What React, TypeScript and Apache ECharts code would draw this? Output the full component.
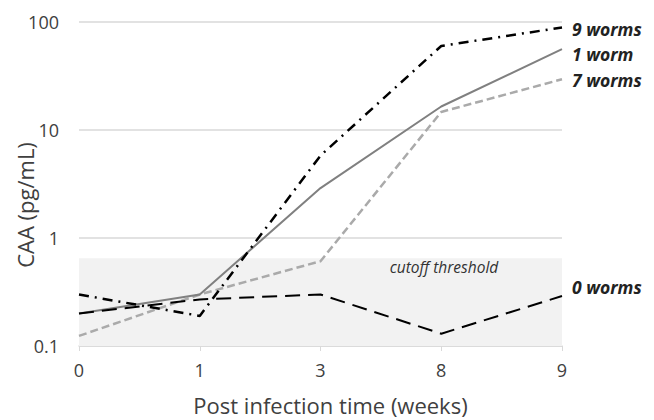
import React, { useEffect, useRef } from "react";
import * as echarts from "echarts";

const weeks = ["0", "1", "3", "8", "9"];
const worms9 = [0.3, 0.19, 5.8, 60, 89];
const worm1 = [0.2, 0.3, 2.9, 16.5, 56];
const worms7 = [0.124, 0.3, 0.61, 14.7, 29.5];
const worms0 = [0.2, 0.27, 0.3, 0.13, 0.29];
const seriesNames = ["9 worms", "1 worm", "7 worms", "0 worms"];
const cutoff = [0.1, 0.65];
const FONT = "'Open Sans', 'DejaVu Sans', sans-serif";

export default function App() {
  const ref = useRef<HTMLDivElement>(null);
  useEffect(() => {
    if (!ref.current) return;
    const chart = echarts.init(ref.current, null, { renderer: "svg" });
    const endLabel = (name: string, dy: number) => ({
      show: true,
      formatter: name,
      fontFamily: FONT,
      fontSize: 17.5,
      fontWeight: "bold",
      fontStyle: "italic",
      color: "#222",
      distance: 10,
      offset: [0, dy],
    });
    chart.setOption({
      animation: false,
      textStyle: { fontFamily: FONT },
      grid: { left: 79, right: 92, top: 22, bottom: 74, outerBoundsMode: "none", containLabel: false },
      graphic: [
        {
          type: "text",
          x: 25,
          y: 205,
          rotation: Math.PI / 2,
          style: {
            text: "CAA (pg/mL)",
            fontFamily: FONT,
            fontSize: 22,
            fill: "#404040",
            align: "center",
            verticalAlign: "middle",
          },
        },
      ],
      xAxis: {
        type: "category",
        data: weeks,
        boundaryGap: false,
        name: "Post infection time (weeks)",
        nameLocation: "middle",
        nameGap: 48,
        nameTextStyle: { fontSize: 22, color: "#404040", fontFamily: FONT, padding: [0, 0, 0, 20] },
        axisLine: { lineStyle: { color: "#d9d9d9", width: 1.5 } },
        axisTick: { show: true, length: 5, lineStyle: { color: "#d9d9d9" } },
        axisLabel: { fontSize: 18, color: "#404040", margin: 15, fontFamily: FONT },
        splitLine: { show: false },
      },
      yAxis: {
        type: "log",
        logBase: 10,
        min: 0.1,
        max: 100,
        axisLine: { show: false },
        axisTick: { show: false },
        axisLabel: {
          fontSize: 18,
          color: "#404040",
          margin: 20,
          fontFamily: FONT,
          formatter: (v: number) => String(v),
        },
        splitLine: { lineStyle: { color: "#d9d9d9", width: 1.5 } },
      },
      series: [
        {
          name: seriesNames[0],
          type: "line",
          data: worms9,
          symbol: "none",
          lineStyle: { color: "#000", width: 2.5, type: [10, 6, 2, 6] },
          endLabel: endLabel(seriesNames[0], 2),
          z: 5,
        },
        {
          name: seriesNames[1],
          type: "line",
          data: worm1,
          symbol: "none",
          lineStyle: { color: "#808080", width: 2 },
          endLabel: endLabel(seriesNames[1], 5),
          z: 4,
        },
        {
          name: seriesNames[2],
          type: "line",
          data: worms7,
          symbol: "none",
          lineStyle: { color: "#aaaaaa", width: 2.5, type: [8, 4] },
          endLabel: endLabel(seriesNames[2], 1),
          z: 3,
        },
        {
          name: seriesNames[3],
          type: "line",
          data: worms0,
          symbol: "none",
          lineStyle: { color: "#000", width: 2, type: [15, 8] },
          endLabel: endLabel(seriesNames[3], -9),
          z: 6,
          markArea: {
            silent: true,
            itemStyle: { color: "#f2f2f2" },
            label: {
              show: true,
              position: [365, 1],
              align: "center",
              formatter: "cutoff threshold",
              fontFamily: FONT,
              fontSize: 15.5,
              fontStyle: "italic",
              color: "#333",
            },
            data: [[{ xAxis: weeks[0], yAxis: cutoff[1] }, { xAxis: weeks[weeks.length - 1], yAxis: cutoff[0] }]],
          },
        },
      ],
    });
    return () => chart.dispose();
  }, []);
  return <div ref={ref} style={{ width: 654, height: 420, position: "absolute", left: 0, top: 0 }} />;
}
